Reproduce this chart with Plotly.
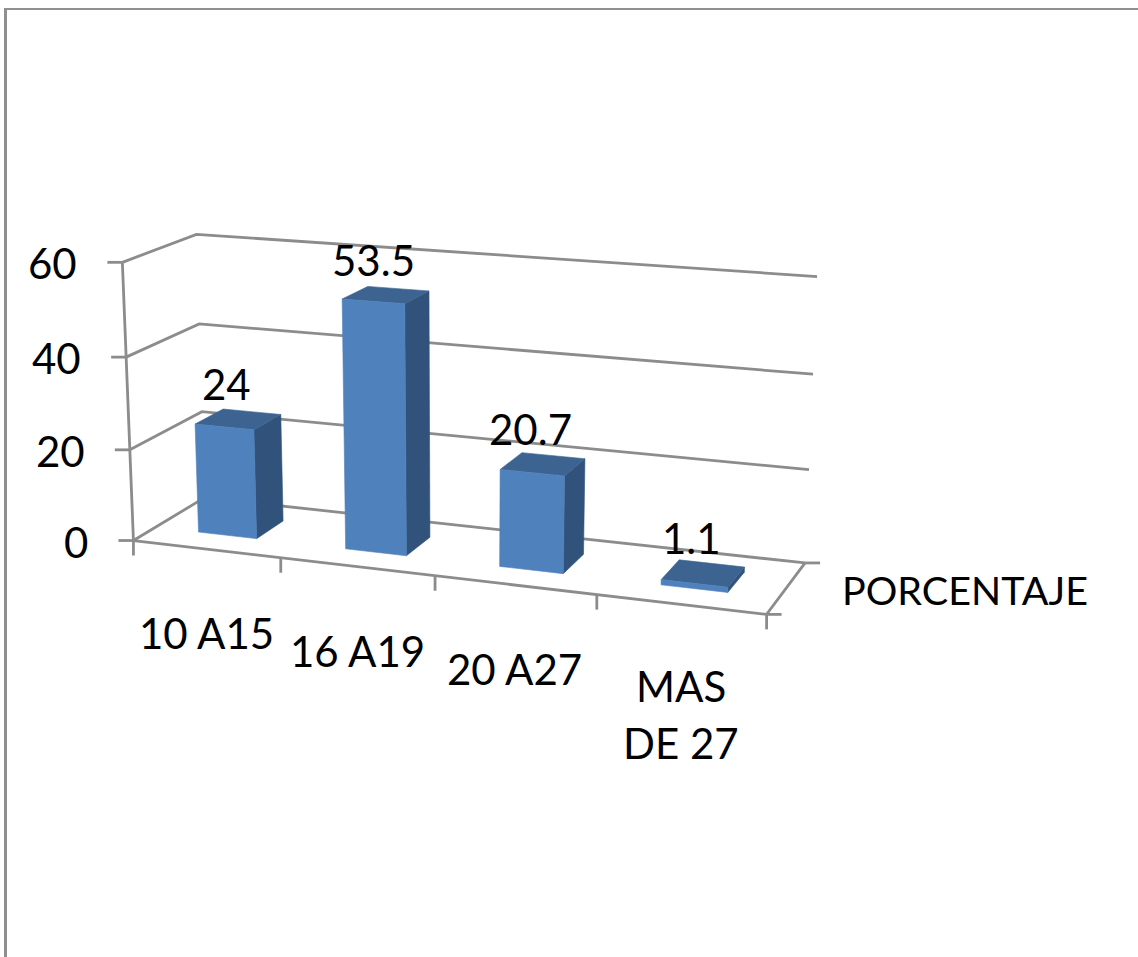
import numpy as np
import plotly.graph_objects as go

# Chart content
categories = ["10 A15", "16 A19", "20 A27", ["MAS", "DE 27"]]
values = [24, 53.5, 20.7, 1.1]
value_ticks = [0, 20, 40, 60]
series_name = "PORCENTAJE"

# Canvas
WIDTH, HEIGHT = 1138, 957
FONT = dict(family="Lato, Carlito, Calibri, sans-serif", size=42, color="#000000")
SERIES_FONT = dict(FONT, size=39.5)
GRID = "#8c8c8c"
FRONT, SIDE, TOP = "#4f81bd", "#31537b", "#3d6491"

# Camera calibration of the 3D box: (category, depth, value) -> canvas position
box_world = [
    (0, 0, 0), (0, 0, 20), (0, 0, 40), (0, 0, 60),
    (1, 0, 0), (2, 0, 0), (3, 0, 0), (4, 0, 0),
    (0, 1, 20), (0, 1, 40), (0, 1, 60),
    (4, 1, 0), (4, 1, 20), (4, 1, 40), (4, 1, 60),
]
box_canvas = [
    (134, 540.7), (130, 450), (126, 356.7), (122.3, 262.3),
    (280.3, 557.8), (435, 575.8), (596.7, 594.6), (766.7, 614.3),
    (201.7, 411.7), (199, 324), (196.7, 234.3),
    (805, 562.7), (809.3, 469.7), (813, 374), (817, 277),
]


def fit_camera(world, canvas):
    rows, rhs = [], []
    for (c, d, v), (px, py) in zip(world, canvas):
        w = (c / 4, d, v / 60, 1)
        rows.append([*w, 0, 0, 0, 0, *(-px * a for a in w[:3])])
        rows.append([0, 0, 0, 0, *w, *(-py * a for a in w[:3])])
        rhs += [px, py]
    p = np.linalg.lstsq(np.array(rows, float), np.array(rhs, float), rcond=None)[0]
    return np.append(p, 1).reshape(3, 4)


CAMERA = fit_camera(box_world, box_canvas)


def project(c, d, v):
    h = CAMERA @ np.array([c / 4, d, v / 60, 1])
    return h[0] / h[2], h[1] / h[2]


fig = go.Figure()


def add_line(points, width=2.8, color=GRID):
    fig.add_trace(go.Scatter(
        x=[p[0] for p in points], y=[p[1] for p in points], mode="lines",
        line=dict(color=color, width=width), hoverinfo="skip", showlegend=False,
    ))


def add_face(corners, color):
    pts = [project(*k) for k in corners]
    pts.append(pts[0])
    fig.add_trace(go.Scatter(
        x=[p[0] for p in pts], y=[p[1] for p in pts], mode="lines", fill="toself",
        fillcolor=color, line=dict(color=color, width=0.6),
        hoverinfo="skip", showlegend=False,
    ))


# Walls: gridlines run along the side wall and then along the back wall
for tick in value_ticks:
    add_line([project(0, 0, tick), project(0, 1, tick), project(4, 1, tick)])

# Floor outline and the front vertical axis
add_line([project(0, 0, 0), project(4, 0, 0), project(4, 1, 0)])
add_line([project(0, 0, 0), project(0, 0, 60)])

# Tick marks
for tick in value_ticks:
    x, y = project(0, 0, tick)
    add_line([(x - 15, y), (x, y)])
for c in range(5):
    x, y = project(c, 0, 0)
    add_line([(x, y), (x, y + 15)])
x, y = project(4, 0, 0)
add_line([(x, y), (x + 15, y)])
x, y = project(4, 1, 0)
add_line([(x, y), (x + 15, y)])

# Bars, each a box with visible front, right side and top
GAP = 0.3
for i, val in enumerate(values):
    c0, c1 = i + GAP, i + 1 - GAP
    d0, d1 = GAP, 1 - GAP
    add_face([(c1, d0, 0), (c1, d1, 0), (c1, d1, val), (c1, d0, val)], SIDE)
    add_face([(c0, d0, val), (c1, d0, val), (c1, d1, val), (c0, d1, val)], TOP)
    add_face([(c0, d0, 0), (c1, d0, 0), (c1, d0, val), (c0, d0, val)], FRONT)


def add_text(x, y, text, anchor="center", font=FONT):
    fig.add_annotation(x=x, y=y, text=text, xref="x", yref="y", showarrow=False,
                       xanchor=anchor, yanchor="middle", font=font)


for tick in value_ticks:
    x, y = project(0, 0, tick)
    add_text(x - 43, y + 1, str(tick), "right")

for i, cat in enumerate(categories):
    x, y = project(i + 0.5, 0, 0)
    if isinstance(cat, list):
        for k, part in enumerate(cat):
            add_text(x, y + 82 + 57 * k, part)
    else:
        add_text(x, y + 84, cat)

for i, val in enumerate(values):
    x, y = project(i + 0.5, 0.5, val)
    add_text(x - 12, y - 35, f"{val:g}")

x, y = project(4, 0.5, 0)
add_text(x + 179, y + 2, series_name, font=SERIES_FONT)

# Outer chart frame, cut off by the canvas on the right and at the bottom
frame_line = dict(color="#8f8f8f", width=3)
fig.add_shape(type="line", x0=5.5, x1=5.5, y0=8, y1=HEIGHT, line=frame_line)
fig.add_shape(type="line", x0=4, x1=WIDTH, y0=9, y1=9, line=dict(color="#8f8f8f", width=2))

fig.update_layout(
    width=WIDTH, height=HEIGHT, margin=dict(l=0, r=0, t=0, b=0),
    plot_bgcolor="#ffffff", paper_bgcolor="#ffffff",
    xaxis=dict(range=[0, WIDTH], visible=False, fixedrange=True),
    yaxis=dict(range=[HEIGHT, 0], visible=False, fixedrange=True),
)

fig.write_html("out.html")
